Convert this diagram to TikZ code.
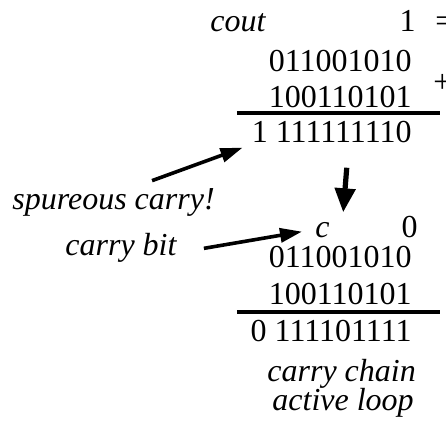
\documentclass[tikz,border=0pt]{standalone}
\usepackage{fontspec}
\setmainfont{Liberation Serif}
\newfontfamily\timesfont{Liberation Serif}
\usetikzlibrary{positioning}
\usetikzlibrary{arrows.meta}

\begin{document}
\begin{tikzpicture}[x=0.5pt,y=-0.5pt]
\tikzset{row/.style={anchor=base east, inner sep=0pt, font=\timesfont\fontsize{16}{18}\selectfont}}
\tikzset{note/.style={anchor=base west, inner sep=0pt, font=\timesfont\fontsize{16}{18}\selectfont\itshape}}
\tikzset{sumline/.style={line width=1.7pt}}
\tikzset{pointer/.style={line width=1.8pt, -{Triangle[length=11pt,width=7pt]}}}
\tikzset{bigarrow/.style={line width=2.6pt, -{Triangle[length=12pt,width=10pt]}}}
\useasboundingbox (0,0) rectangle (446,428);
% first addition
\node[note] (cout) at (210,32) {cout};
\node[row] (cout1) at (416,32) {1};
\node[row, anchor=base west] (eq) at (435,32) {=};
\node[row] (a1) at (412,72) {011001010};
\node[row] (b1) at (412,107) {100110101};
\node[row, anchor=base west] (plus) at (433,92) {+};
\draw[sumline] (237,113) -- (440,113);
\node[row] (sum1) at (412,142) {1 111111110};
% second addition
\node[note] (c) at (315,237) {c};
\node[row] (cin) at (418,237) {0};
\node[row] (a2) at (412,268) {011001010};
\node[row] (b2) at (412,305) {100110101};
\draw[sumline] (237,312) -- (440,312);
\node[row] (sum2) at (412,342) {0 111101111};
\node[note] (chain) at (267,382) {carry chain};
\node[note] (loop) at (272,411) {active loop};
% side notes
\node[note] (spur) at (12,210) {spureous carry!};
\node[note] (cbit) at (65,256) {carry bit};
\draw[pointer] ([xshift=19.25pt,yshift=4pt]spur.north) -- ([xshift=-4.5pt,yshift=-2.5pt]sum1.south west);
\draw[pointer] ([xshift=13.5pt]cbit.east) -- ([xshift=-6.5pt,yshift=-1pt]c.west);
\draw[bigarrow] ([xshift=7.5pt,yshift=-12.5pt]sum1.south) -- ([xshift=1.5pt,yshift=17pt]a2.north);
\end{tikzpicture}
\end{document}
